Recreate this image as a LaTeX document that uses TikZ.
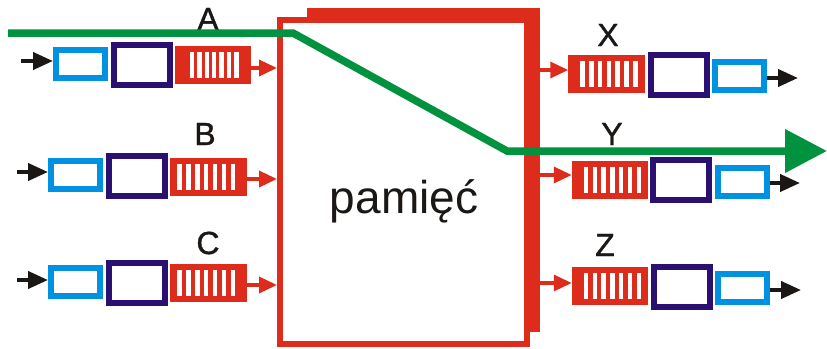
\documentclass[tikz,border=0pt]{standalone}
\usepackage{fontspec}
\setmainfont{Liberation Sans}
\newfontfamily\labfont[FakeBold=1.2]{Liberation Sans}
\usetikzlibrary{arrows.meta}
\definecolor{qred}{RGB}{221,43,28}
\definecolor{lblue}{RGB}{0,146,224}
\definecolor{dblue}{RGB}{42,16,112}
\definecolor{gline}{RGB}{0,146,63}
\definecolor{ink}{RGB}{26,23,21}
\begin{document}
\begin{tikzpicture}[x=1pt,y=-1pt,
  lb/.style={draw=lblue,line width=6pt,fill=white,inner sep=0,minimum width=49pt,minimum height=28pt},
  db/.style={draw=dblue,line width=6pt,fill=white,inner sep=0,minimum width=56pt,minimum height=40pt},
  que/.style 2 args={fill=qred,inner sep=0,outer sep=0,minimum width=76.5pt,minimum height=38pt,
    path picture={\foreach \k in {0,...,6}{\fill[white] ([shift={(#1+\k*#2,6)}]path picture bounding box.north west) rectangle ++(4.5,26);}}},
  blackarr/.style={draw=ink,line width=4pt,-{Triangle[length=20pt,width=17pt]}},
  redarr/.style={draw=qred,line width=3.5pt,-{Triangle[length=18pt,width=16pt]}},
  lab/.style={inner sep=0,font=\labfont\fontsize{32}{32}\selectfont,text=ink},
  greenpath/.style={draw=gline,line width=7.5pt,-{Triangle[length=42pt,width=42pt]}}]
\useasboundingbox (0,0) rectangle (827,348);
% memory
\node[fill=qred,inner sep=0,outer sep=0,minimum width=233pt,minimum height=324pt] (memb) at (423.5,170) {};
\node[draw=qred,fill=white,line width=6pt,inner sep=0,minimum width=247pt,minimum height=324pt] (mem) at (403.5,182) {};
\node[inner sep=0,font=\fontsize{46}{46}\selectfont,text=ink] (memlbl) at (404,201) {pamięć};
% input queues
\node[lb] (la) at (80.5,63.5) {};
\node[db] (da) at (141.5,64.5) {};
\node[que={15}{7.4}] (qa) at (213,64.5) {};
\node[lb] (lbb) at (75.5,175) {};
\node[db] (dbb) at (136.5,176) {};
\node[que={7}{8.9}] (qbb) at (208.5,176.5) {};
\node[lb] (lc) at (75.5,281.5) {};
\node[db] (dc) at (137,283) {};
\node[que={7}{8.9}] (qc) at (208.5,283) {};
% output queues
\node[que={12}{8.8}] (qx) at (606.5,74) {};
\node[db] (dx) at (678.5,74.5) {};
\node[lb] (lx) at (739.5,76) {};
\node[que={12}{8.8}] (qy) at (610,179.5) {};
\node[db] (dy) at (681,179.5) {};
\node[lb] (ly) at (742,181.5) {};
\node[que={12}{8.8}] (qz) at (610,286) {};
\node[db] (dz) at (681.5,286.5) {};
\node[lb] (lz) at (742,288) {};
% arrow coordinates
\coordinate (ia) at (21,61);
\coordinate (ib) at (17,172);
\coordinate (ic) at (17,280);
\coordinate (ra) at (0,68);
\coordinate (rb) at (0,179);
\coordinate (rc) at (0,285);
\coordinate (rx) at (0,70);
\coordinate (ry) at (0,175);
\coordinate (rz) at (0,283);
\coordinate (ox) at (798,78);
\coordinate (oy) at (800,183);
\coordinate (oz) at (801,290);
% input arrows
\draw[blackarr] (ia) -- (ia -| la.west);
\draw[blackarr] (ib) -- (ib -| lbb.west);
\draw[blackarr] (ic) -- (ic -| lc.west);
\draw[redarr] (qa.east |- ra) -- (mem.west |- ra);
\draw[redarr] (qbb.east |- rb) -- (mem.west |- rb);
\draw[redarr] (qc.east |- rc) -- (mem.west |- rc);
% output arrows
\draw[redarr] (memb.east |- rx) -- (qx.west |- rx);
\draw[redarr] (memb.east |- ry) -- (qy.west |- ry);
\draw[redarr] (memb.east |- rz) -- (qz.west |- rz);
\draw[blackarr] (lx.east |- ox) -- (ox);
\draw[blackarr] (ly.east |- oy) -- (oy);
\draw[blackarr] (lz.east |- oz) -- (oz);
% labels
\node[lab] (tA) at (208,19) {A};
\node[lab] (tB) at (205,134) {B};
\node[lab] (tC) at (208,243) {C};
\node[lab] (tX) at (608,35) {X};
\node[lab] (tY) at (612,134) {Y};
\node[lab] (tZ) at (605,245) {Z};
% green path
\coordinate (g0) at (8,33);
\coordinate (g1) at (293,33);
\coordinate (g2) at (507,151);
\coordinate (g3) at (827,151);
\draw[greenpath] (g0) -- (g1) -- (g2) -- (g3);
\end{tikzpicture}
\end{document}
